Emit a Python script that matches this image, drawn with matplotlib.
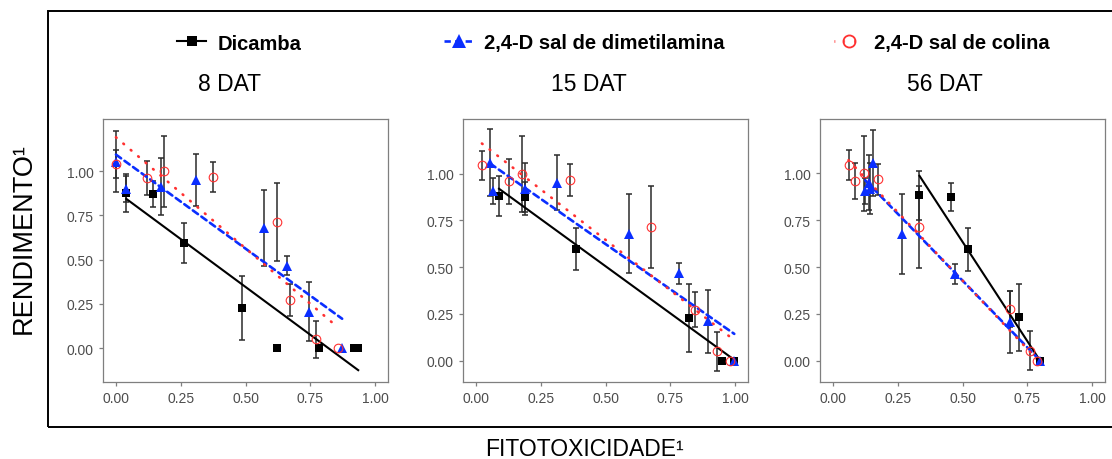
import numpy as np
import matplotlib
matplotlib.use('Agg')
import matplotlib.pyplot as plt
from matplotlib.lines import Line2D
from matplotlib.patches import Rectangle

plt.rcParams['font.family'] = ['Liberation Sans', 'DejaVu Sans']

titles = ['8 DAT', '15 DAT', '56 DAT']
labels = ['Dicamba', '2,4-D sal de dimetilamina', '2,4-D sal de colina']
yticks = [0.0, 0.25, 0.5, 0.75, 1.0]
xticks = [0.0, 0.25, 0.5, 0.75, 1.0]

# Dicamba
dic_x = [[0.04, 0.143, 0.262, 0.485, 0.622, 0.784, 0.918, 0.935],
         [0.089, 0.189, 0.388, 0.824, 0.951, 0.997],
         [0.334, 0.457, 0.522, 0.717, 0.8]]
dic_y = [[0.878, 0.872, 0.593, 0.226, 0, 0, 0, 0],
         [0.88, 0.874, 0.596, 0.228, 0, 0],
         [0.883, 0.874, 0.595, 0.231, 0]]
dic_err = [[0.107, 0.075, 0.113, 0.181, 0, 0, 0, 0],
           [0.107, 0.08, 0.113, 0.18, 0, 0],
           [0.13, 0.073, 0.115, 0.181, 0]]

# 2,4-D sal de dimetilamina
dma_x = [[0, 0.038, 0.173, 0.31, 0.572, 0.661, 0.747, 0.873],
         [0.055, 0.066, 0.189, 0.313, 0.59, 0.782, 0.895, 0.997],
         [0.153, 0.125, 0.144, 0.14, 0.265, 0.471, 0.682, 0.8]]
dma_y = [[1.055, 0.9, 0.913, 0.951, 0.68, 0.467, 0.207, 0],
         [1.059, 0.907, 0.919, 0.952, 0.679, 0.467, 0.21, 0],
         [1.056, 0.906, 0.919, 0.951, 0.677, 0.465, 0.207, 0]]
dma_err = [[0.175, 0.072, 0.16, 0.148, 0.213, 0.054, 0.167, 0],
           [0.178, 0.072, 0.138, 0.148, 0.213, 0.056, 0.167, 0],
           [0.178, 0.072, 0.138, 0.148, 0.213, 0.054, 0.167, 0]]

# 2,4-D sal de colina
col_x = [[0, 0.12, 0.187, 0.373, 0.622, 0.671, 0.771, 0.858],
         [0.023, 0.128, 0.176, 0.364, 0.677, 0.847, 0.93, 0.98],
         [0.06, 0.085, 0.118, 0.175, 0.334, 0.682, 0.762, 0.787]]
col_y = [[1.041, 0.96, 1.0, 0.966, 0.712, 0.273, 0.051, 0],
         [1.045, 0.96, 1.0, 0.966, 0.713, 0.273, 0.05, 0],
         [1.045, 0.96, 1.0, 0.969, 0.714, 0.276, 0.054, 0]]
col_err = [[0.078, 0.097, 0.2, 0.085, 0.219, 0.092, 0.105, 0],
           [0.078, 0.12, 0.204, 0.083, 0.22, 0.094, 0.104, 0],
           [0.078, 0.097, 0.2, 0.082, 0.219, 0.096, 0.106, 0]]

# linear fits (intercept, slope)
dic_fit = [(0.887, -1.082), (1.009, -1.008), (1.695, -2.12)]
dma_fit = [(1.094, -1.063), (1.107, -0.967), (1.141, -1.426)]
col_fit = [(1.192, -1.255), (1.186, -1.08), (1.158, -1.46)]

ylims = [(-0.19, 1.295), (-0.113, 1.292), (-0.112, 1.29)]

BLACK = '#000000'
BLUE = '#0a2eff'
RED = '#ff3030'
ls_dash = (0, (2.4, 1.6))
ls_dot = (0, (0.3, 3.4))

series_style = [
    dict(color=BLACK, marker='s', ms=5.2, mfc=BLACK, mew=0, ls='-', lw=1.5),
    dict(color=BLUE, marker='^', ms=7, mfc=BLUE, mew=0, ls=ls_dash, lw=1.9),
    dict(color=RED, marker='o', ms=6.2, mfc='none', mew=0.8, ls=ls_dot, lw=1.9),
]


def draw_series(ax, x, y, err, fit, st):
    x = np.array(x, dtype=float)
    y = np.array(y, dtype=float)
    err = np.array(err, dtype=float)
    m = err > 0
    ax.errorbar(x[m], y[m], yerr=err[m], fmt='none', ecolor='#2b2b2b',
                elinewidth=1.1, capsize=2.2, capthick=1.1, zorder=2)
    xs = np.array([x.min(), x.max()])
    a, b = fit
    ax.plot(xs, a + b * xs, color=st['color'], ls=st['ls'], lw=st['lw'],
            dash_capstyle='round', zorder=3)
    ax.plot(x, y, ls='none', marker=st['marker'], ms=st['ms'], mfc=st['mfc'],
            mec=st['color'], mew=st['mew'], zorder=4)


fig = plt.figure(figsize=(11.12, 4.6), dpi=100)

lefts = [103 / 1112, 463 / 1112, 820 / 1112]
title_x = [229 / 1112, 589 / 1112, 945 / 1112]
for i in range(3):
    ax = fig.add_axes([lefts[i], 0.168, 0.2563, 0.571])
    draw_series(ax, dic_x[i], dic_y[i], dic_err[i], dic_fit[i], series_style[0])
    draw_series(ax, dma_x[i], dma_y[i], dma_err[i], dma_fit[i], series_style[1])
    draw_series(ax, col_x[i], col_y[i], col_err[i], col_fit[i], series_style[2])
    ax.set_xlim(-0.05, 1.05)
    ax.set_ylim(*ylims[i])
    ax.set_xticks(xticks)
    ax.set_yticks(yticks)
    ax.set_xticklabels(['%.2f' % t for t in xticks])
    ax.set_yticklabels(['%.2f' % t for t in yticks])
    ax.tick_params(colors='#7f7f7f', labelcolor='#4d4d4d', labelsize=10,
                   length=3, width=0.9)
    for s in ax.spines.values():
        s.set_color('#7f7f7f')
        s.set_linewidth(0.9)
    fig.text(title_x[i], 1 - 85 / 460, titles[i], ha='center', va='center',
             fontsize=16.5)

# legend at top, one entry per column
leg_x = [177 / 1112, 444 / 1112, 834 / 1112]
for i in range(3):
    st = series_style[i]
    h = Line2D([], [], color=st['color'], ls=st['ls'], lw=st['lw'],
               marker=st['marker'], ms=st['ms'] + 2.5, mfc=st['mfc'],
               mec=st['color'], mew=st['mew'] + (0.5 if i == 2 else 0))
    fig.legend(handles=[h], labels=[labels[i]], loc='center left',
               bbox_to_anchor=(leg_x[i], 1 - 44 / 460), frameon=False,
               handlelength=1.45, handletextpad=0.55, borderpad=0,
               borderaxespad=0, prop=dict(weight='bold', size=14.5))

fig.text(24 / 1112, 1 - 239 / 460, 'RENDIMENTO\u00b9', rotation=90,
         ha='center', va='center', fontsize=19.5)
fig.text(584 / 1112, 1 - 450 / 460, 'FITOTOXICIDADE\u00b9', ha='center',
         va='center', fontsize=16.5)

fig.patches.append(Rectangle((48 / 1112, 1 - 428 / 460), 1.0, 416 / 460,
                             transform=fig.transFigure, fill=False,
                             edgecolor='black', lw=1.4))

fig.savefig('out.png', dpi=100)
